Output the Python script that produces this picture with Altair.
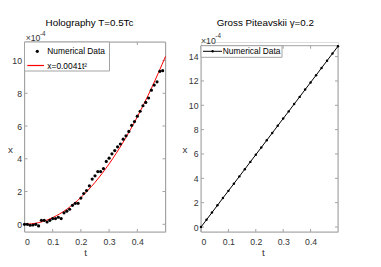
import altair as alt
import pandas as pd

# ---------------- data ----------------
holo_t = [0.00, 0.01, 0.02, 0.03, 0.04, 0.05, 0.06, 0.07, 0.08, 0.09,
          0.10, 0.11, 0.12, 0.13, 0.14, 0.15, 0.16, 0.17, 0.18, 0.19,
          0.20, 0.21, 0.22, 0.23, 0.24, 0.25, 0.26, 0.27, 0.28, 0.29,
          0.30, 0.31, 0.32, 0.33, 0.34, 0.35, 0.36, 0.37, 0.38, 0.39,
          0.40, 0.41, 0.42, 0.43, 0.44, 0.45, 0.46, 0.47, 0.48, 0.49]
holo_x = [0.00, 0.00, -0.06, -0.04, 0.00, -0.10, 0.24, 0.24, 0.14, 0.24,
          0.35, 0.35, 0.43, 0.35, 0.70, 0.80, 0.92, 1.16, 1.28, 1.28,
          1.60, 1.88, 2.06, 2.35, 2.76, 2.96, 3.22, 3.22, 3.40, 3.84,
          4.04, 4.30, 4.50, 4.73, 4.90, 5.20, 5.40, 5.67, 6.04, 6.27,
          6.60, 6.90, 7.24, 7.44, 7.71, 8.19, 8.50, 8.70, 9.34, 9.38]

fit_t = [0.00, 0.05, 0.10, 0.15, 0.20, 0.25, 0.30, 0.35, 0.40, 0.45, 0.50]
fit_x = [0.00, 0.10, 0.41, 0.92, 1.64, 2.56, 3.69, 5.02, 6.56, 8.30, 10.25]

gp_t = [0.00, 0.02, 0.04, 0.06, 0.08, 0.10, 0.12, 0.14, 0.16, 0.18,
        0.20, 0.22, 0.24, 0.26, 0.28, 0.30, 0.32, 0.34, 0.36, 0.38,
        0.40, 0.42, 0.44, 0.46, 0.48, 0.50]
gp_x = [0.00, 0.59, 1.19, 1.78, 2.38, 2.97, 3.56, 4.16, 4.75, 5.35,
        5.94, 6.53, 7.13, 7.72, 8.32, 8.91, 9.50, 10.10, 10.69, 11.29,
        11.88, 12.47, 13.07, 13.66, 14.26, 14.85]

t_ticks = [0, 0.1, 0.2, 0.3, 0.4]
left_y_ticks = [0, 2, 4, 6, 8, 10]
right_y_ticks = [0, 2, 4, 6, 8, 10, 12, 14]

# ---------------- style ----------------
FONT = "Liberation Sans"
BOX = "#a3a3a3"
TXT = "#333333"
W1, W2, H = 141, 137, 190
RIGHT_TOP = 3.7

one = pd.DataFrame({"a": [0]})


def txt(x, y, s, size=9.8, align="center", color="black", angle=0):
    return alt.Chart(one).mark_text(
        text=s, fontSize=size, font=FONT, align=align, baseline="middle",
        color=color, angle=angle
    ).encode(x=alt.value(x), y=alt.value(y))


def rect(x1, x2, y1, y2, color=BOX, fill="white", fo=0.0):
    return alt.Chart(one).mark_rect(
        stroke=color, strokeWidth=1, fill=fill, fillOpacity=fo
    ).encode(x=alt.value(x1), x2=alt.value(x2), y=alt.value(y1), y2=alt.value(y2))


def xaxis():
    return alt.Axis(values=t_ticks, format="~g", title=None, grid=False, ticks=False,
                    domain=False, labelFont=FONT, labelFontSize=8.7, labelColor=TXT,
                    labelPadding=5, minExtent=0)


def yaxis(vals):
    return alt.Axis(values=vals, format="d", title=None, grid=False, ticks=False,
                    domain=False, labelFont=FONT, labelFontSize=8.7, labelColor=TXT,
                    labelPadding=3, minExtent=0)


def inner_ticks(xscale, yscale, xt, yt, w, top, yax):
    dx = pd.DataFrame({"v": xt})
    dy = pd.DataFrame({"v": yt})
    bot = alt.Chart(dx).mark_rule(color=BOX, strokeWidth=1).encode(
        x=alt.X("v:Q", scale=xscale, axis=xaxis()), y=alt.value(H), y2=alt.value(H - 3))
    tp = alt.Chart(dx).mark_rule(color=BOX, strokeWidth=1).encode(
        x=alt.X("v:Q", scale=xscale, axis=xaxis()), y=alt.value(top), y2=alt.value(top + 3))
    lf = alt.Chart(dy).mark_rule(color=BOX, strokeWidth=1).encode(
        y=alt.Y("v:Q", scale=yscale, axis=yax), x=alt.value(0), x2=alt.value(3))
    rt = alt.Chart(dy).mark_rule(color=BOX, strokeWidth=1).encode(
        y=alt.Y("v:Q", scale=yscale, axis=yax), x=alt.value(w - 3), x2=alt.value(w))
    return [bot, tp, lf, rt]


# ---------------- left panel ----------------
xs1 = alt.Scale(domain=[0, 0.5], nice=False, zero=False)
ys1 = alt.Scale(domain=[-0.47, 11.13], nice=False, zero=False)
ya1 = yaxis(left_y_ticks)

holo_df = pd.DataFrame({"t": holo_t, "x": holo_x})
fit_df = pd.DataFrame({"t": fit_t, "x": fit_x})

pts1 = alt.Chart(holo_df).mark_circle(size=10, color="black", opacity=1).encode(
    x=alt.X("t:Q", scale=xs1, axis=xaxis()),
    y=alt.Y("x:Q", scale=ys1, axis=ya1))
fit1 = alt.Chart(fit_df).mark_line(color="#ff0000", strokeWidth=1, interpolate="monotone").encode(
    x=alt.X("t:Q", scale=xs1, axis=xaxis()), y=alt.Y("x:Q", scale=ys1, axis=ya1))

left_layers = [rect(0, W1, 0, H)] + inner_ticks(xs1, ys1, t_ticks, left_y_ticks, W1, 0, ya1) + [
    fit1, pts1,
    rect(0, 85, 0, 29, fo=1.0),
    alt.Chart(one).mark_circle(size=10, color="black", opacity=1).encode(
        x=alt.value(12.8), y=alt.value(9.3)),
    alt.Chart(one).mark_rule(color="#ff0000", strokeWidth=1.2).encode(
        x=alt.value(2.8), x2=alt.value(19.5), y=alt.value(23.5)),
    txt(22.8, 9.3, "Numerical Data", size=8.4, align="left"),
    txt(22.8, 23.5, "x=0.0041t\u00b2", size=8.4, align="left"),
    txt(65, -19.3, "Holography T=0.5Tc", size=9.8),
    txt(1.2, -4, "\u00d710", size=8.7, align="left", color=TXT),
    txt(15.5, -8.5, "-4", size=6.3, align="left", color=TXT),
    txt(-14, 107.7, "x", size=9.8, color=TXT),
    txt(61.2, 211, "t", size=9.8, color=TXT),
]
left = alt.layer(*left_layers).properties(width=W1, height=H)

# ---------------- right panel ----------------
xs2 = alt.Scale(domain=[0, 0.5], nice=False, zero=False)
ys2 = alt.Scale(domain=[-0.41, 15.2], nice=False, zero=False)
ya2 = yaxis(right_y_ticks)
gp_df = pd.DataFrame({"t": gp_t, "x": gp_x})

line2 = alt.Chart(gp_df).mark_line(color="black", strokeWidth=1,
                                   point=alt.OverlayMarkDef(filled=True, size=6, color="black")).encode(
    x=alt.X("t:Q", scale=xs2, axis=xaxis()),
    y=alt.Y("x:Q", scale=ys2, axis=ya2))

right_layers = [rect(0, W2, RIGHT_TOP, H)] + inner_ticks(xs2, ys2, t_ticks, right_y_ticks, W2, RIGHT_TOP, ya2) + [
    line2,
    rect(0, 81, RIGHT_TOP, 15.3, fo=1.0),
    alt.Chart(one).mark_rule(color="black", strokeWidth=1).encode(
        x=alt.value(2), x2=alt.value(21), y=alt.value(9.3)),
    alt.Chart(one).mark_circle(size=6, color="black", opacity=1).encode(
        x=alt.value(11.6), y=alt.value(9.3)),
    txt(21.8, 9.3, "Numerical Data", size=8.4, align="left"),
    txt(64.3, -19.3, "Gross Piteavskii \u03b3=0.2", size=9.8),
    txt(0, -1.5, "\u00d710", size=8.7, align="left", color=TXT),
    txt(14.3, -6, "-4", size=6.3, align="left", color=TXT),
    txt(-16, 107.7, "x", size=9.8, color=TXT),
    txt(62.3, 211, "t", size=9.8, color=TXT),
]
right = alt.layer(*right_layers).properties(width=W2, height=H)

chart = alt.hconcat(left, right, spacing=13.5).properties(
    padding={"left": -0.5, "top": 9, "right": 0, "bottom": 0}
).configure_view(stroke=None).configure(font=FONT)

chart.save("out.html", embed_options={"renderer": "svg", "actions": False})
